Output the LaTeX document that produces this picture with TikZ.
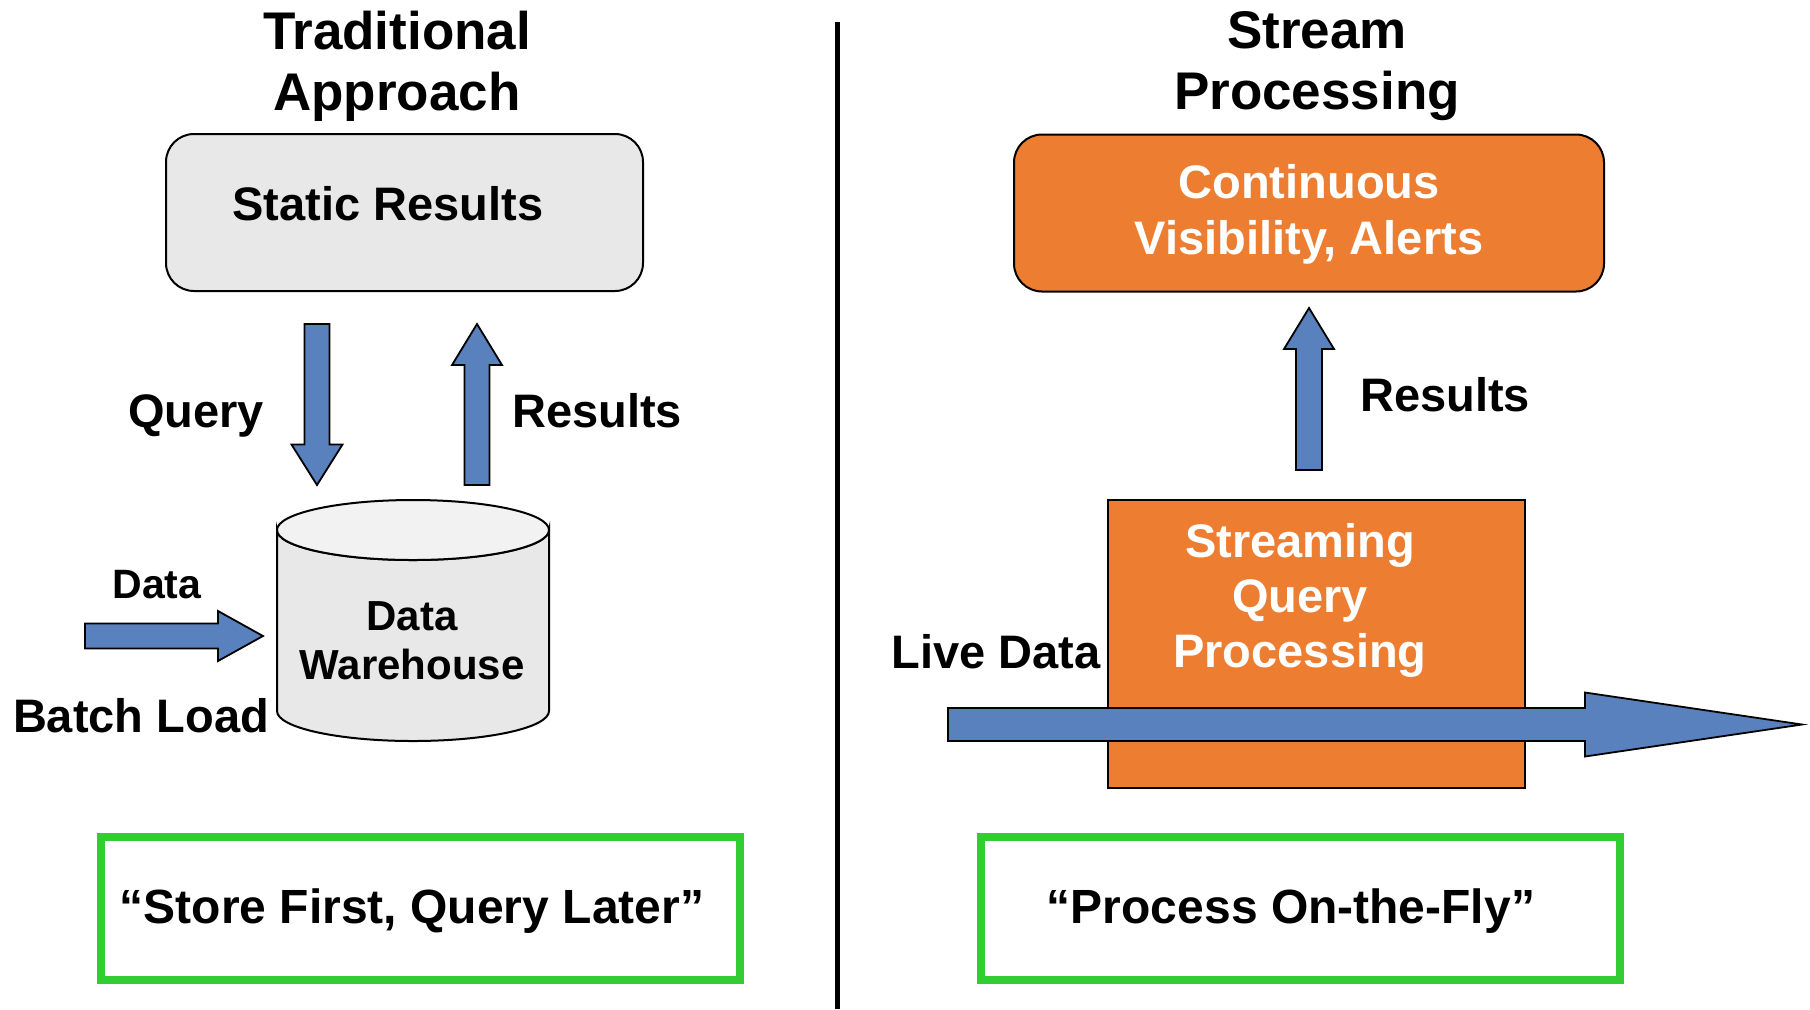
\documentclass[tikz,border=0pt]{standalone}
\usepackage{fontspec}
\setmainfont{Liberation Sans}
\usepackage{tikz}
\usetikzlibrary{calc}

\definecolor{boxgray}{RGB}{232,232,232}
\definecolor{cyltop}{RGB}{242,242,242}
\definecolor{flowblue}{RGB}{89,129,190}
\definecolor{streamorange}{RGB}{237,125,49}
\definecolor{mottogreen}{RGB}{51,204,51}

% block arrow: tail, tip, half shaft, half head, head length
\newcommand{\blockarrow}[5]{%
  \coordinate (ba base) at ($(#2)!#5!(#1)$);
  \filldraw[block arrow] ($(#1)!#3!90:(#2)$) -- ($(ba base)!#3!90:(#2)$)
    -- ($(ba base)!#4!90:(#2)$) -- (#2) -- ($(ba base)!#4!-90:(#2)$)
    -- ($(ba base)!#3!-90:(#2)$) -- ($(#1)!#3!-90:(#2)$) -- cycle;
}

\begin{document}
\begin{tikzpicture}[x=0.5pt,y=-0.5pt,
  title/.style={font=\fontsize{26.5}{30.5}\selectfont\bfseries,align=center},
  lbl/.style={font=\fontsize{23.5}{28}\selectfont\bfseries,align=center},
  small lbl/.style={font=\fontsize{20.5}{24}\selectfont\bfseries,align=center},
  white lbl/.style={lbl,text=white},
  result box/.style={draw,line width=1pt,rounded corners=14pt,
    minimum width=238.5pt,minimum height=78.5pt},
  motto box/.style={draw=mottogreen,line width=4pt,minimum width=319.5pt,
    minimum height=71.5pt},
  motto/.style={font=\fontsize{24}{28}\selectfont\bfseries},
  block arrow/.style={fill=flowblue,draw=black,line width=0.9pt,line join=miter}]
  \useasboundingbox (0,0) rectangle (1810,1009);

  % left: traditional
  \node[title] (trad title) at (397,66) {Traditional\\Approach};
  \node[result box,fill=boxgray] (static) at (404.5,212.5) {};
  \node[lbl] (static text) at (388,203.5) {Static Results};

  \filldraw[fill=boxgray,line width=1pt] (277,530) -- (277,711)
    arc[start angle=180,end angle=0,x radius=136,y radius=30] -- (549,530)
    arc[start angle=0,end angle=180,x radius=136,y radius=30] -- cycle;
  \filldraw[fill=cyltop,line width=1pt] (413,530) ellipse[x radius=136,y radius=30];
  \node[small lbl,font=\fontsize{21}{24.5}\selectfont\bfseries] (warehouse) at (412,641) {Data\\Warehouse};

  \coordinate (query start) at (317,324);
  \coordinate (query end) at (317,485);
  \coordinate (res start) at (477,485);
  \coordinate (res end) at (477,324);
  \coordinate (load start) at (85,636);
  \coordinate (load end) at (263,636);
  \blockarrow{query start}{query end}{6.25pt}{12.75pt}{20.25pt}
  \blockarrow{res start}{res end}{6.25pt}{12.5pt}{20.5pt}
  \blockarrow{load start}{load end}{6.25pt}{12.5pt}{22.5pt}

  \node[lbl] (query) at (196,416) {Query};
  \node[lbl] (results) at (597,411) {Results};
  \node[small lbl] (data) at (157,585) {Data};
  \node[lbl] (batch) at (141,716) {Batch Load};

  \node[motto box] (store) at (420.5,908.5) {};
  \node[motto] (store text) at (412,911) {“Store First, Query Later”};

  \draw[line width=2.5pt] (837,22) -- (837,1009);

  % right: stream processing
  \node[title] (stream title) at (1317,66) {Stream\\Processing};
  \node[result box,fill=streamorange,minimum width=295pt] (alerts) at (1309,213) {};
  \node[white lbl] (alerts text) at (1309,214) {Continuous\\Visibility, Alerts};

  \node[draw,fill=streamorange,line width=1pt,minimum width=208.5pt,
    minimum height=144pt] (engine) at (1316.5,644) {};
  \node[white lbl,font=\fontsize{23.5}{27.5}\selectfont\bfseries] (engine text) at (1300,600) {Streaming\\Query\\Processing};

  \coordinate (out start) at (1309,470);
  \coordinate (out end) at (1309,308);
  \coordinate (live start) at (948,724.5);
  \coordinate (live end) at (1802,724.5);
  \blockarrow{out start}{out end}{6.5pt}{12.5pt}{20.5pt}
  \blockarrow{live start}{live end}{8.25pt}{16pt}{108.5pt}

  \node[lbl] (results2) at (1445,395) {Results};
  \node[lbl] (live) at (996,652) {Live Data};

  \node[motto box] (process) at (1300,908.5) {};
  \node[motto] (process text) at (1291,911) {“Process On-the-Fly”};
\end{tikzpicture}
\end{document}
